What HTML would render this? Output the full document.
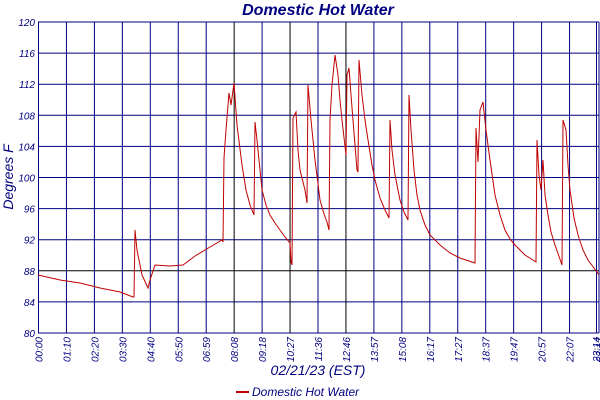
<!DOCTYPE html>
<html><head><meta charset="utf-8"><style>
body{margin:0;background:#fff}
svg{display:block;font-family:"Liberation Sans",sans-serif}
</style></head><body>
<svg width="600" height="400" xmlns="http://www.w3.org/2000/svg">
<text x="318" y="15" text-anchor="middle" font-size="16" font-style="italic" font-weight="bold" fill="#000080">Domestic Hot Water</text>
<text transform="translate(13,177) rotate(-90)" text-anchor="middle" font-size="14" font-style="italic" fill="#000080">Degrees F</text>
<text x="318" y="375" text-anchor="middle" font-size="14" font-style="italic" fill="#000080">02/21/23 (EST)</text>
<line x1="236" y1="392" x2="249" y2="392" stroke="#c00000" stroke-width="2"/>
<text x="252" y="396" font-size="12" font-style="italic" fill="#000080">Domestic Hot Water</text>
<g stroke="#000080" stroke-width="1" fill="none" id="grid"></g>
<g font-size="10" font-style="italic" fill="#000080" id="lab"></g>
<polyline fill="none" stroke="#c00000" stroke-width="1" points="38,275 60,280 80,283 100,288 120,292 133,297 134,297 135,230 137,250 142,275 148,288 150,280 155,265 170,266 183,265 195,256 210,247 222,240 223,242 224,158 226,130 229,93 231,105 234,83 237,125 242,165 246,190 250,205 254,215 255,122 257,140 262,190 266,205 270,215 275,223 280,230 285,237 290,243 291,262 292,265 293,118 296,112 298,150 300,170 305,190 307,203 308,85 311,120 315,160 320,200 324,214 327,222 329,230 330,120 332,85 335,55 338,75 340,100 342,120 346,155 347,75 349,68 351,95 353,120 357,170 358,172 359,60 362,95 365,120 368,140 372,165 375,180 380,198 385,210 389,218 390,120 392,150 395,175 400,200 404,212 408,220 409,95 411,130 414,170 417,195 420,210 425,225 430,235 440,245 450,253 460,258 475,263 476,128 478,162 480,110 483,102 486,130 490,160 495,195 500,215 505,230 510,239 515,245 525,255 536,262 537,140 539,175 541,190 543,160 545,195 548,215 551,232 555,245 562,265 563,120 566,130 568,165 570,190 574,218 578,235 583,250 588,260 594,268 599,275"/>
<script>
var g=document.getElementById('grid'),lb=document.getElementById('lab'),NS='http://www.w3.org/2000/svg';
function el(p,t,a,txt){var e=document.createElementNS(NS,t);for(var k in a)e.setAttribute(k,a[k]);if(txt)e.textContent=txt;p.appendChild(e);}
for(var i=0;i<=10;i++){var y=22+i*31.1;el(g,'line',{x1:38,x2:599,y1:y,y2:y,stroke:i==8?'#000':'#000080'});
el(lb,'text',{x:35,y:y+4,'text-anchor':'end'},String(120-4*i));}
var L=['00:00','01:10','02:20','03:30','04:40','05:50','06:59','08:08','09:18','10:27','11:36','12:46','13:57','15:08','16:17','17:27','18:37','19:47','20:57','22:07'];
for(var i=0;i<20;i++){var x=38.5+i*27.95;el(g,'line',{x1:x,x2:x,y1:22,y2:333,stroke:(i==7||i==9||i==11)?'#000':'#000080'});
el(lb,'text',{transform:'translate('+(x+4)+',337) rotate(-90)','text-anchor':'end'},L[i]);}
el(g,'line',{x1:596.5,x2:596.5,y1:22,y2:333});el(g,'line',{x1:599,x2:599,y1:22,y2:333});
el(lb,'text',{transform:'translate(600,337) rotate(-90)','text-anchor':'end'},'23:14');
el(lb,'text',{transform:'translate(603,337) rotate(-90)','text-anchor':'end'},'23:17');
</script>
</svg>
</body></html>
